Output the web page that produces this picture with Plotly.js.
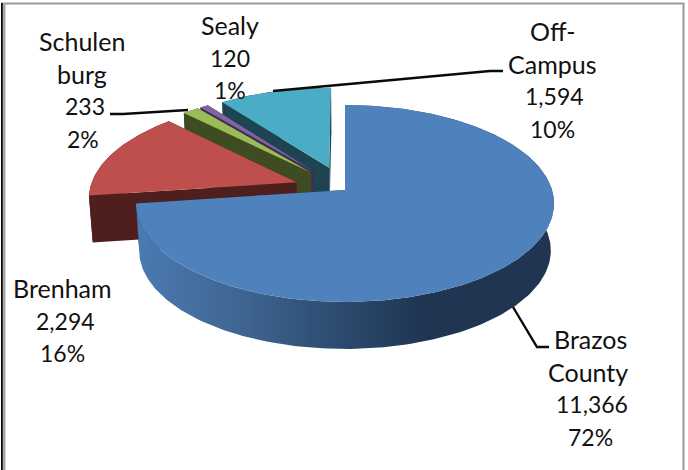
<!DOCTYPE html>
<html><head><meta charset="utf-8">
<script src="https://cdn.plot.ly/plotly-3.0.1.min.js"></script>
<style>html,body{margin:0;padding:0;background:#fff}#c{width:688px;height:470px}</style>
</head><body><div id="c"></div>
<script>
// ---- data (clockwise from 12 o'clock) ----
const categories = ["Brazos County", "Brenham", "Schulenburg", "Sealy", "Off-Campus"];
const values = [11366, 2294, 233, 120, 1594];
const valueLabels = ["11,366", "2,294", "233", "120", "1,594"];
const percentLabels = ["72%", "16%", "2%", "1%", "10%"];
const nameLines = [["Brazos", "County"], ["Brenham"], ["Schulen", "burg"], ["Sealy"], ["Off-", "Campus"]];

// ---- styling ----
const topColors = ["#4F81BD", "#BE4F4C", "#9BBB59", "#8064A2", "#4BACC6"];
const sideColors = ["#1F3552", "#4F1F1E", "#3F4C22", "#3E2D54", "#1E4452"];
const blueSideScale = [[0, "#4B7AB2"], [0.35, "#3F6692"], [0.68, "#2D4C70"], [1, "#1F3552"]];
const labelCenters = [[590, 339], [62, 288], [82, 41], [230, 25], [552, 31]];
const labelDx = [[0, -2, 2, 0], [0, 3, 0], [0, 0, 3, 1], [0, 0, 0], [0, 0, 2, 0]];
const lineGap = 32.6;

// ---- projection of the tilted pie ----
const cx = 345, cy = 190, R = 207, S = 96.6, P = 0.137, depth = 47, shrink = 0.985, explode = 0.25;
function proj(u, v, low) {
  const w = 1 + P * v;
  return [cx + R * u / w * (low ? shrink : 1), cy - S * v / w + (low ? depth : 0)];
}
const total = values.reduce((a, b) => a + b, 0);
let cum = 0;
const slices = values.map((val, i) => {
  const a0 = cum / total * 2 * Math.PI; cum += val;
  const a1 = cum / total * 2 * Math.PI;
  const mid = (a0 + a1) / 2;
  const ex = i === 0 ? 0 : explode;
  return { i, a0, a1, eu: ex * Math.sin(mid), ev: ex * Math.cos(mid) };
});
function arc(s, low, from, to) {
  const n = Math.max(4, Math.ceil((to - from) / 0.02)), pts = [];
  for (let k = 0; k <= n; k++) {
    const t = from + (to - from) * k / n;
    pts.push(proj(s.eu + Math.sin(t), s.ev + Math.cos(t), low));
  }
  return pts;
}
function poly(pts, name, fill, extra) {
  const closed = pts.concat([pts[0]]);
  return Object.assign({
    type: "scatter", mode: "lines", name,
    x: closed.map(p => p[0]), y: closed.map(p => p[1]),
    fill: "toself", fillcolor: fill, line: { width: 0 }, hoverinfo: "name", showlegend: false
  }, extra || {});
}
const traces = [];
[4, 3, 2, 1, 0].forEach(idx => {
  const s = slices[idx], nm = categories[idx], side = sideColors[idx];
  const aT = proj(s.eu, s.ev, false), aB = proj(s.eu, s.ev, true);
  const edge = t => [aT, proj(s.eu + Math.sin(t), s.ev + Math.cos(t), false), proj(s.eu + Math.sin(t), s.ev + Math.cos(t), true), aB];
  traces.push(poly(edge(s.a0), nm, side));
  traces.push(poly(edge(s.a1), nm, side));
  const wall = arc(s, false, s.a0, s.a1).concat(arc(s, true, s.a0, s.a1).reverse());
  traces.push(poly(wall, nm, side, idx === 0 ? {
    fillgradient: { type: "horizontal", start: 137, stop: 425, colorscale: blueSideScale }
  } : {}));
  traces.push(poly([aT].concat(arc(s, false, s.a0, s.a1)), nm, topColors[idx]));
});

// leader lines
function leader(xs, ys) {
  traces.push({ type: "scatter", mode: "lines", x: xs, y: ys, line: { color: "#0a0a0a", width: 2.4 }, hoverinfo: "skip", showlegend: false });
}
leader([110, 123, 188], [114, 114, 110]);
leader([273, 490, 503], [91, 71, 71]);
leader([513, 537, 549], [307, 347, 347]);

// labels: words and numbers use slightly different sizes to follow the reference's glyph widths
const annotations = [];
categories.forEach((c, i) => {
  const names = nameLines[i];
  const lines = names.concat([valueLabels[i], percentLabels[i]]);
  lines.forEach((t, k) => annotations.push({
    xref: "x", yref: "y", x: labelCenters[i][0] + labelDx[i][k], y: labelCenters[i][1] + k * lineGap,
    text: t, showarrow: false, xanchor: "center", yanchor: "middle",
    font: { family: "Lato, Carlito, sans-serif", size: k < names.length ? 25 : 23, color: "#111" }
  }));
});

const rect = (x0, y0, x1, y1, color) => ({ type: "rect", xref: "x", yref: "y", x0, y0, x1, y1, fillcolor: color, line: { width: 0 }, layer: "above" });
const layout = {
  width: 688, height: 470, margin: { l: 0, r: 0, t: 0, b: 0 },
  paper_bgcolor: "#fff", plot_bgcolor: "#fff", showlegend: false,
  xaxis: { range: [0, 688], visible: false, fixedrange: true },
  yaxis: { range: [470, 0], visible: false, fixedrange: true },
  annotations,
  shapes: [
    rect(1, 2.6, 684.5, 4.6, "#9a9a9a"),
    rect(2.7, 3, 5.5, 470, "#a8a8a8"),
    rect(1, 3, 2.8, 470, "#0c0c0c"),
    rect(682.5, 3, 684.5, 470, "#9a9a9a")
  ]
};
Plotly.newPlot("c", traces, layout, { displayModeBar: false, staticPlot: true });
</script></body></html>
